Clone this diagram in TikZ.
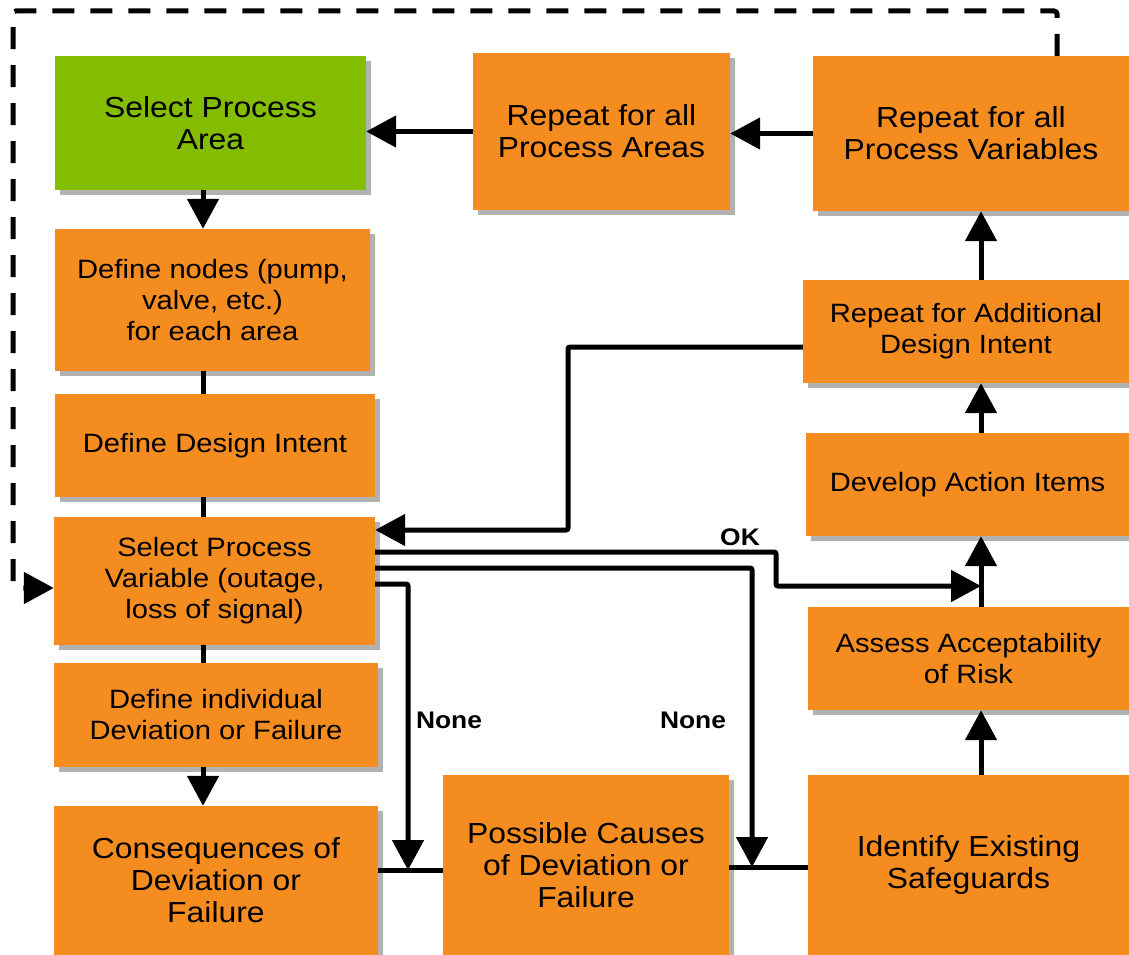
\documentclass[tikz,border=0pt]{standalone}
\usepackage{fontspec}
\setmainfont{Liberation Sans}[FakeStretch=1.1]
\usetikzlibrary{arrows.meta,shadows}
\definecolor{boxorange}{RGB}{245,140,32}
\definecolor{boxgreen}{RGB}{132,189,0}
\begin{document}
\begin{tikzpicture}[x=1pt,y=-1pt,
  box/.style={fill=boxorange, inner sep=0pt, align=center,
    drop shadow={shadow xshift=5pt,shadow yshift=-5pt,opacity=0.3,fill=black}},
  med/.style={font=\fontsize{26.5}{31}\selectfont},
  big/.style={font=\fontsize{29}{32}\selectfont},
  conn/.style={line width=5pt, rounded corners=2pt},
  arr/.style={conn, -{Triangle[length=30pt,width=31pt]}},
  dashconn/.style={line width=5pt, dash pattern=on 22pt off 16pt, rounded corners=3pt, -{Triangle[length=30pt,width=31pt]}},
  lbl/.style={font=\fontsize{24}{27}\selectfont\bfseries}
]
\useasboundingbox (0,0) rectangle (1129,955);

% boxes
\node[box,big,fill=boxgreen,minimum width=311pt,minimum height=134pt] (A) at (210.5,123) {Select Process\\Area};
\node[box,big,minimum width=257pt,minimum height=157pt] (B) at (601.5,131.5) {Repeat for all\\Process Areas};
\node[box,big,minimum width=316pt,minimum height=155pt] (C) at (971,133.5) {Repeat for all\\Process Variables};
\node[box,med,minimum width=315pt,minimum height=142pt] (D) at (212.5,300) {Define nodes (pump,\\valve, etc.)\\for each area};
\node[box,med,minimum width=320pt,minimum height=103pt] (E) at (215,445.5) {Define Design Intent};
\node[box,med,minimum width=321pt,minimum height=128pt] (F) at (214.5,581) {Select Process\\Variable (outage,\\loss of signal)};
\node[box,med,minimum width=324pt,minimum height=104pt] (G) at (216,715) {Define individual\\Deviation or Failure};
\node[box,big,minimum width=324pt,minimum height=149pt] (H) at (216,880.5) {Consequences of\\Deviation or\\Failure};
\node[box,big,minimum width=286pt,minimum height=180pt] (I) at (586,865) {Possible Causes\\of Deviation or\\Failure};
\node[box,big,minimum width=321pt,minimum height=180pt] (J) at (968.5,865) {Identify Existing\\Safeguards};
\node[box,med,minimum width=321pt,minimum height=103pt] (K) at (968.5,658.5) {Assess Acceptability\\of Risk};
\node[box,med,minimum width=323pt,minimum height=103pt] (L) at (967.5,484.5) {Develop Action Items};
\node[box,med,minimum width=326pt,minimum height=103pt] (M) at (966,331.5) {Repeat for Additional\\Design Intent};

% helper coordinates
\coordinate (vl) at (203,0);
\coordinate (vr) at (981,0);
\coordinate (dtr) at (1057,11);
\coordinate (dj) at (13,588);
\coordinate (mx1) at (568,347);
\coordinate (mx2) at (568,530);
\coordinate (ok1) at (776,552);
\coordinate (ok2) at (776,586);
\coordinate (n2) at (752,568);
\coordinate (n3) at (408,584);
\coordinate (hhi) at (0,870);
\coordinate (hij) at (0,867);

% connectors
\draw[arr] (C.west) -- (C.west -| B.east);
\draw[arr] (B.west) -- (B.west -| A.east);
\draw[arr] (A.south -| vl) -- (D.north -| vl);
\draw[conn] (D.south -| vl) -- (E.north -| vl);
\draw[conn] (E.south -| vl) -- (F.north -| vl);
\draw[conn] (F.south -| vl) -- (G.north -| vl);
\draw[arr] (G.south -| vl) -- (H.north -| vl);

\draw[dashconn] (C.north -| dtr) -- (dtr) -- (dtr -| dj) -- (dj) -- (dj -| F.west);

\draw[arr] (mx1 -| M.west) -- (mx1) -- (mx2) -- (mx2 -| F.east);
\draw[arr] (ok1 -| F.east) -- (ok1) -- (ok2) -- (ok2 -| vr);
\draw[arr] (n2 -| F.east) -- (n2) -- (n2 |- hij);
\draw[arr] (n3 -| F.east) -- (n3) -- (n3 |- hhi);

\draw[conn] (H.east |- hhi) -- (I.west |- hhi);
\draw[conn] (I.east |- hij) -- (J.west |- hij);

\draw[arr] (J.north -| vr) -- (K.south -| vr);
\draw[arr] (K.north -| vr) -- (L.south -| vr);
\draw[arr] (L.north -| vr) -- (M.south -| vr);
\draw[arr] (M.north -| vr) -- (C.south -| vr);

% labels
\node[lbl] (okl) at (740,537) {OK};
\node[lbl] (none1) at (449,720) {None};
\node[lbl] (none2) at (693,720) {None};
\end{tikzpicture}
\end{document}
